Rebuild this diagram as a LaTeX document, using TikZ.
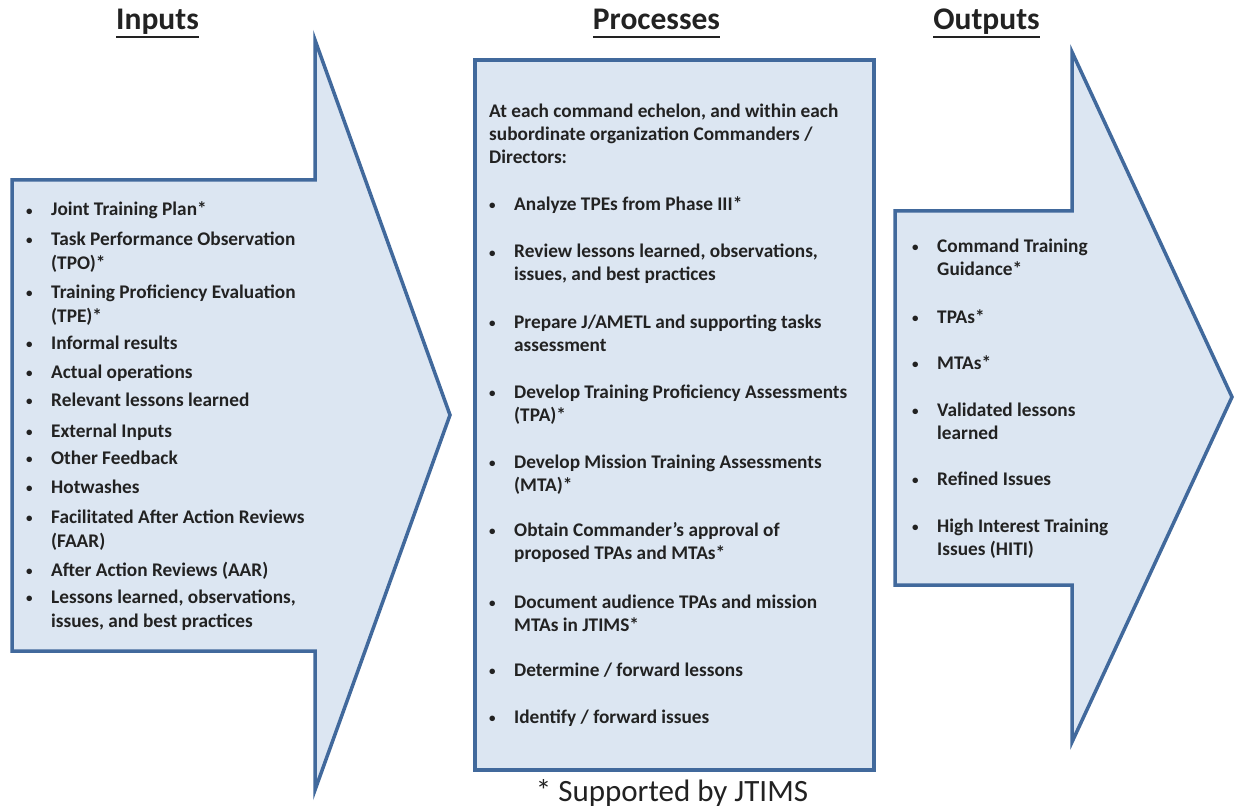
\documentclass[tikz,border=0pt]{standalone}
\usepackage{fontspec}
\setmainfont{Carlito}
\definecolor{fillblue}{HTML}{DCE6F2}
\definecolor{edgeblue}{HTML}{41699C}
\definecolor{txtgray}{HTML}{222222}
\newcommand{\lines}[1]{\begin{tabular}[t]{@{}l@{}}#1\end{tabular}}
\newcommand{\bl}[1]{\makebox[25pt][l]{\raisebox{1pt}{\fontsize{13}{13}\selectfont\textbullet}}\lines{#1}}
\tikzset{
  shapebox/.style={draw=edgeblue, line width=3.5pt, fill=fillblue, line join=miter},
  headtxt/.style={anchor=base, inner sep=0pt, text=txtgray, font=\fontsize{31.5}{36}\selectfont\bfseries},
  itemtxt/.style={anchor=base west, inner sep=0pt, text=txtgray, font=\fontsize{19.3}{23}\selectfont\bfseries},
  ul/.style={line width=2pt, txtgray}
}
\begin{document}
\begin{tikzpicture}[x=1pt,y=-1pt]
\useasboundingbox (0,0) rectangle (1238,810);

% the three blocks
\draw[shapebox] (12,180) -- (315,180) -- (315,40) -- (450,415) -- (315,790) -- (315,651) -- (12,651) -- cycle;
\draw[shapebox] (475,60) rectangle (874,770);
\draw[shapebox] (895,211) -- (1072,211) -- (1072,52) -- (1232,397) -- (1072,742) -- (1072,585) -- (895,585) -- cycle;

% headings
\node[headtxt] (hin) at (157.5,30) {Inputs};
\node[headtxt] (hproc) at (656.5,30) {Processes};
\node[headtxt] (hout) at (986.5,30) {Outputs};
\draw[ul] ([yshift=-7pt]hin.base west) -- ([yshift=-7pt]hin.base east);
\draw[ul] ([yshift=-7pt]hproc.base west) -- ([yshift=-7pt]hproc.base east);
\draw[ul] ([yshift=-7pt]hout.base west) -- ([yshift=-7pt]hout.base east);

% inputs
\foreach \y/\t [count=\i] in {216/{Joint Training Plan*},
  245/{Task Performance Observation\\(TPO)*},
  298/{Training Proficiency Evaluation\\(TPE)*},
  349/{Informal results}, 378/{Actual operations},
  406/{Relevant lessons learned}, 437/{External Inputs},
  464/{Other Feedback}, 493/{Hotwashes},
  523/{Facilitated After Action Reviews\\(FAAR)},
  576/{After Action Reviews (AAR)},
  603/{Lessons learned, observations,\\issues, and best practices}}
  \node[itemtxt, font=\fontsize{19.3}{24}\selectfont\bfseries] (in\i) at (26,\y) {\bl{\t}};

% processes
\node[itemtxt] (pintro) at (489,118) {\lines{At each command echelon, and within each\\subordinate organization Commanders /\\Directors:}};
\foreach \y/\t [count=\i] in {211/{Analyze TPEs from Phase III*},
  258/{Review lessons learned, observations,\\issues, and best practices},
  328/{Prepare J/AMETL and supporting tasks\\assessment},
  398/{Develop Training Proficiency Assessments\\(TPA)*},
  468/{Develop Mission Training Assessments\\(MTA)*},
  536/{Obtain Commander’s approval of\\proposed TPAs and MTAs*},
  608/{Document audience TPAs and mission\\MTAs in JTIMS*},
  676/{Determine / forward lessons},
  723/{Identify / forward issues}}
  \node[itemtxt] (pr\i) at (489,\y) {\bl{\t}};

% outputs
\foreach \y/\t [count=\i] in {252/{Command Training\\Guidance*},
  323/{TPAs*}, 369/{MTAs*},
  416/{Validated lessons\\learned},
  485/{Refined Issues},
  532/{High Interest Training\\Issues (HITI)}}
  \node[itemtxt] (out\i) at (912,\y) {\bl{\t}};

\node[anchor=base, inner sep=0pt, text=txtgray, font=\fontsize{31}{36}\selectfont] (note) at (672,801) {* Supported by JTIMS};
\end{tikzpicture}
\end{document}
